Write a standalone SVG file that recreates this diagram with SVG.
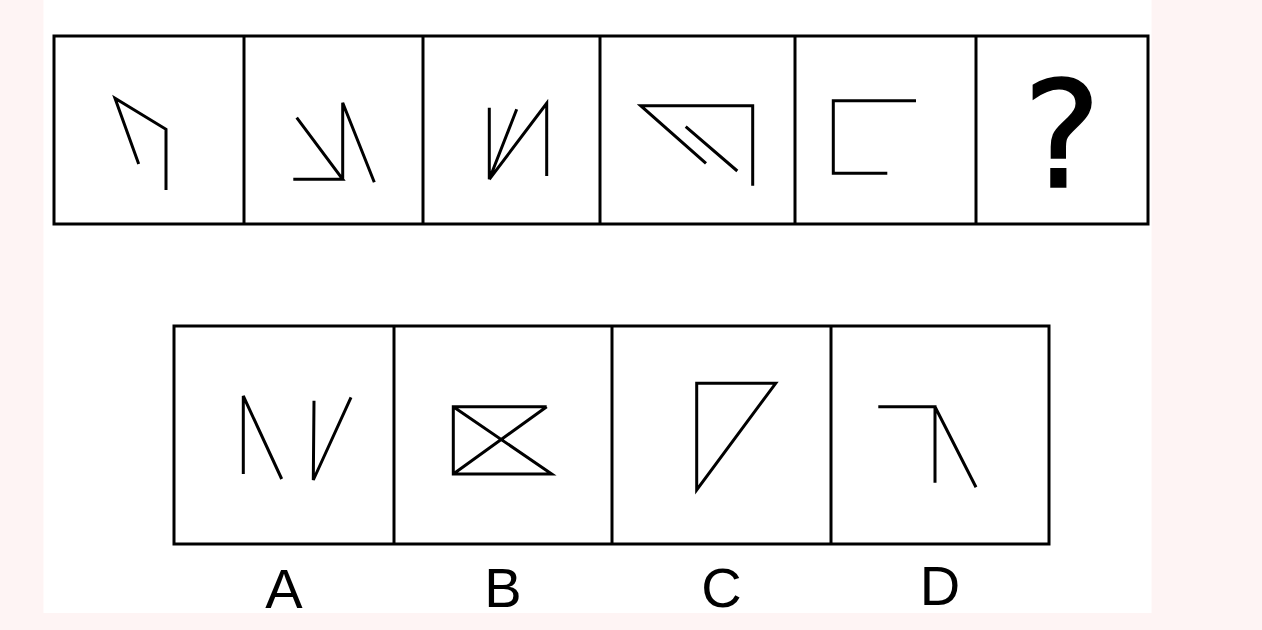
<svg xmlns="http://www.w3.org/2000/svg" width="1262" height="630" viewBox="0 0 1262 630">
<style>
.frame{fill:none;stroke:#000;stroke-width:3}
.fig{fill:none;stroke:#000;stroke-width:3;stroke-linejoin:miter;stroke-linecap:butt}
.lbl{font-family:"Liberation Sans",Arial,sans-serif;font-size:56px;fill:#000;text-anchor:middle}
.q{font-family:"DejaVu Sans",sans-serif;font-size:148px;fill:#000;stroke:#000;stroke-width:1.5;text-anchor:middle}
</style>
<rect x="0" y="0" width="1262" height="630" fill="#fef4f4"/>
<rect x="43.5" y="0" width="1108" height="613" fill="#ffffff"/>
<g id="top-row">
<rect class="frame" x="54" y="36" width="1094" height="188"/>
<line class="frame" x1="244" y1="36" x2="244" y2="224"/>
<line class="frame" x1="423" y1="36" x2="423" y2="224"/>
<line class="frame" x1="600" y1="36" x2="600" y2="224"/>
<line class="frame" x1="795" y1="36" x2="795" y2="224"/>
<line class="frame" x1="976" y1="36" x2="976" y2="224"/>
</g>
<g id="cell1"><polyline class="fig" points="138.7,164 115,98.3 166,129.3 166,190"/></g>
<g id="cell2"><path class="fig" d="M293.3,179.3 L342.7,179.3 L296.7,117.7 M342.7,179.3 L342.7,102.7 L374.3,182.3"/></g>
<g id="cell3"><path class="fig" d="M489.3,107.7 L489.3,179.3 L516.7,109.3 M489.3,179.3 L546.7,103.3 L546.7,176"/></g>
<g id="cell4"><path class="fig" d="M706,163.3 L640.7,105.7 L752.7,105.7 L752.7,185.7 M685.7,126.7 L737.3,171"/></g>
<g id="cell5"><polyline class="fig" points="916,100.7 833.3,100.7 833.3,173.3 887.3,173.3"/></g>
<g id="cell6"><text class="q" x="1062" y="187">?</text></g>
<g id="bottom-row">
<rect class="frame" x="174" y="326" width="875" height="218"/>
<line class="frame" x1="394" y1="326" x2="394" y2="544"/>
<line class="frame" x1="612" y1="326" x2="612" y2="544"/>
<line class="frame" x1="831" y1="326" x2="831" y2="544"/>
</g>
<g id="optA"><path class="fig" d="M243.3,474 L243.3,396 L281.7,479 M314,400.7 L313.3,480 L351,397.3"/></g>
<g id="optB"><path class="fig" d="M546.7,406.7 L453.3,406.7 L453.3,474 L551.7,474 L453.3,406.7 M453.3,474 L546.7,406.7"/></g>
<g id="optC"><polygon class="fig" points="696.7,383.3 775.7,383.3 696.7,490"/></g>
<g id="optD"><path class="fig" d="M878.3,406.7 L935,406.7 L935,482.7 M935,406.7 L976,487.3"/></g>
<g id="labels">
<text class="lbl" x="284" y="608">A</text>
<text class="lbl" x="503" y="607">B</text>
<text class="lbl" x="721.5" y="607">C</text>
<text class="lbl" x="940" y="605">D</text>
</g>
</svg>
